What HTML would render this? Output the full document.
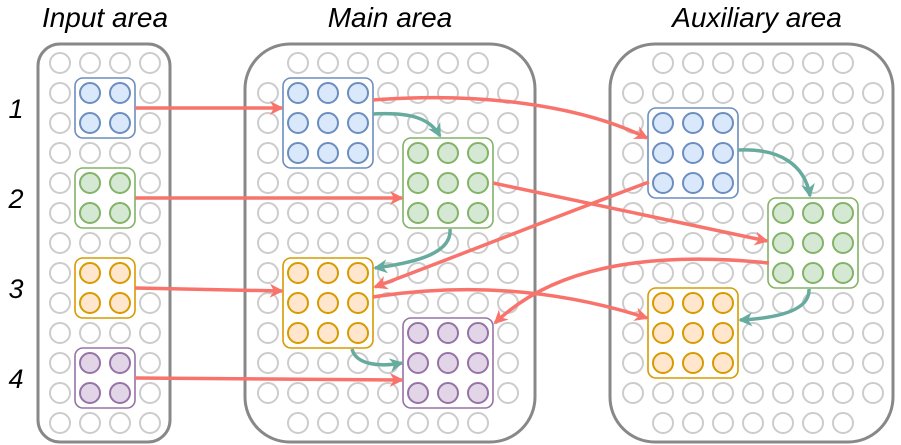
<!DOCTYPE html>
<html><head><meta charset="utf-8"><style>
html,body{margin:0;padding:0;background:#fff;}
svg{display:block;}
text{font-family:"Liberation Sans",sans-serif;font-style:italic;fill:#000;}
</style></head><body>
<svg id="s" width="901" height="445" viewBox="0 0 901 445" xmlns="http://www.w3.org/2000/svg">
<defs>
<marker id="ar" viewBox="0 0 10 10" refX="9" refY="5" markerWidth="5" markerHeight="5" orient="auto" markerUnits="userSpaceOnUse" style="overflow:visible">
<path d="M0,0 L10,5 L0,10 L3,5 Z" fill="#f8736b" transform="scale(2.8) translate(-5.5,-3.2)"/>
</marker>
<marker id="at" viewBox="0 0 10 10" refX="9" refY="5" markerWidth="5" markerHeight="5" orient="auto" markerUnits="userSpaceOnUse" style="overflow:visible">
<path d="M0,0 L10,5 L0,10 L3,5 Z" fill="#67ab9f" transform="scale(2.8) translate(-5.5,-3.2)"/>
</marker>
</defs>
<text x="105" y="27" font-size="28" text-anchor="middle">Input area</text>
<text x="390" y="27" font-size="28" text-anchor="middle">Main area</text>
<text x="757" y="27" font-size="28" text-anchor="middle">Auxiliary area</text>
<text x="16" y="118" font-size="27" text-anchor="middle">1</text>
<text x="16" y="208" font-size="27" text-anchor="middle">2</text>
<text x="16" y="298" font-size="27" text-anchor="middle">3</text>
<text x="16" y="388" font-size="27" text-anchor="middle">4</text>
<rect x="38" y="44" width="132" height="398" rx="22" fill="none" stroke="#888" stroke-width="3"/>
<rect x="245" y="44" width="290" height="398" rx="45" fill="none" stroke="#888" stroke-width="3"/>
<rect x="610" y="44" width="283" height="398" rx="45" fill="none" stroke="#888" stroke-width="3"/>
<g id="grid" fill="none" stroke="#cccccc" stroke-width="2"></g>
<g id="blocks"></g>
<g fill="none" stroke="#f8736b" stroke-width="3.5">
<path d="M135,108 L282,108" marker-end="url(#ar)"/>
<path d="M135,198 L402,198" marker-end="url(#ar)"/>
<path d="M135,288 L282,291" marker-end="url(#ar)"/>
<path d="M135,378 L402,380" marker-end="url(#ar)"/>
<path d="M373,100 C480,92 580,105 647,138" marker-end="url(#ar)"/>
<path d="M493,183 L767,241" marker-end="url(#ar)"/>
<path d="M649,182 C560,215 460,255 375,287" marker-end="url(#ar)"/>
<path d="M769,263 C640,250 550,270 495,323" marker-end="url(#ar)"/>
<path d="M373,297 C470,282 560,290 647,318" marker-end="url(#ar)"/>
</g>
<g fill="none" stroke="#67ab9f" stroke-width="3.5">
<path d="M373,114 C410,112 430,118 440,136" marker-end="url(#at)"/>
<path d="M450,229 C452,252 420,262 375,268" marker-end="url(#at)"/>
<path d="M352,349 C356,365 380,367 402,363" marker-end="url(#at)"/>
<path d="M738,150 C780,148 805,165 810,196" marker-end="url(#at)"/>
<path d="M809,289 C810,310 780,318 740,320" marker-end="url(#at)"/>
</g>
</svg>
<script>
var NS="http://www.w3.org/2000/svg";
var g=document.getElementById('grid');
function c(x,y){var e=document.createElementNS(NS,'circle');e.setAttribute('cx',x);e.setAttribute('cy',y);e.setAttribute('r',10);g.appendChild(e);}
var rows=[];for(var r=0;r<13;r++)rows.push(63+r*30);
rows.forEach(function(y){[60,90,120,150].forEach(function(x){c(x,y);});});
[268,633].forEach(function(x0){
rows.forEach(function(y,ri){for(var k=0;k<9;k++){if((ri==0||ri==12)&&(k==0||k==8))continue;c(x0+k*30,y);}});
});
var b=document.getElementById('blocks');
var cols={b:['#dae8fc','#6c8ebf'],g:['#d5e8d4','#82b366'],o:['#ffe6cc','#d79b00'],p:['#e1d5e7','#9673a6']};
function blk(x,y,n,col){
var s=n*30;var r=document.createElementNS(NS,'rect');
r.setAttribute('x',x-15);r.setAttribute('y',y-15);r.setAttribute('width',s);r.setAttribute('height',s);r.setAttribute('rx',8);
r.setAttribute('fill','#fff');r.setAttribute('stroke',cols[col][1]);r.setAttribute('stroke-width',1.6);b.appendChild(r);
for(var i=0;i<n;i++)for(var j=0;j<n;j++){var e=document.createElementNS(NS,'circle');e.setAttribute('cx',x+i*30);e.setAttribute('cy',y+j*30);e.setAttribute('r',10);e.setAttribute('fill',cols[col][0]);e.setAttribute('stroke',cols[col][1]);e.setAttribute('stroke-width',2);b.appendChild(e);}
}
blk(90,93,2,'b');blk(90,183,2,'g');blk(90,273,2,'o');blk(90,363,2,'p');
blk(298,93,3,'b');blk(418,153,3,'g');blk(298,273,3,'o');blk(418,333,3,'p');
blk(663,123,3,'b');blk(783,213,3,'g');blk(663,303,3,'o');
</script>
</body></html>
